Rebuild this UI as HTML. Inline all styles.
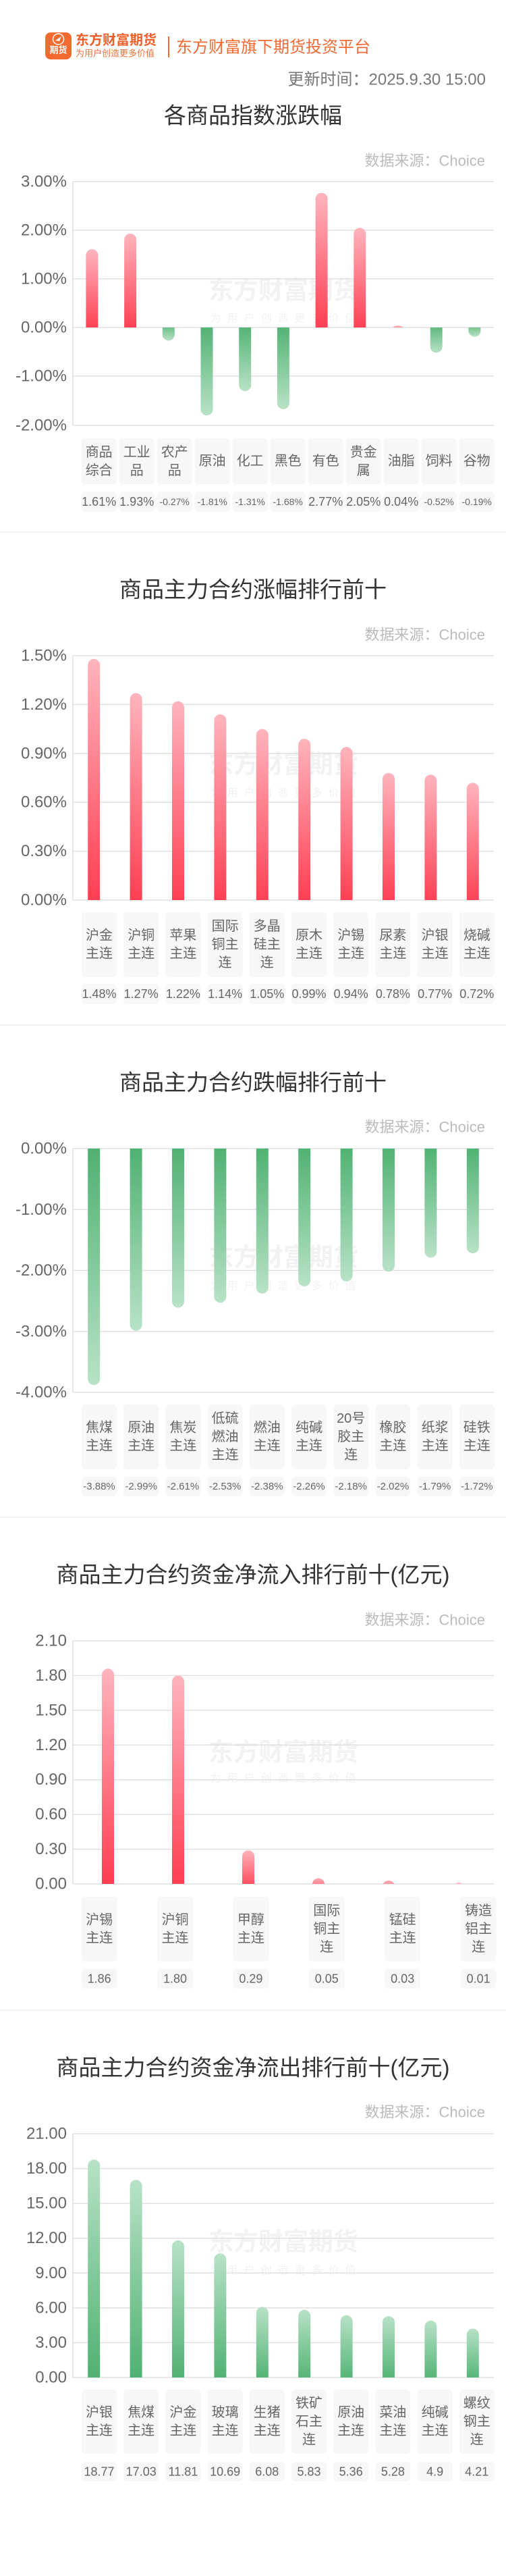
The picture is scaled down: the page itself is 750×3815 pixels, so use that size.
<!DOCTYPE html>
<html><head><meta charset="utf-8">
<style>
html,body{margin:0;padding:0;background:#fff;}
svg{display:block}
text{font-family:"Liberation Sans","Noto Sans CJK SC",sans-serif;}
.t{font-size:24px;fill:#666;text-anchor:end;dominant-baseline:central}
.ti{font-size:33px;fill:#333;text-anchor:middle;dominant-baseline:central}
.src{font-size:22px;fill:#bbb;text-anchor:end;dominant-baseline:central}
.c{font-size:20px;fill:#666;text-anchor:middle;dominant-baseline:central}
.v{font-size:18px;fill:#666;text-anchor:middle;dominant-baseline:central}
.vn{font-size:14px;fill:#666;text-anchor:middle;dominant-baseline:central}
.v3{font-size:15px;fill:#666;text-anchor:middle;dominant-baseline:central}
.wm{font-size:37px;font-weight:bold;fill:#f2f2f2;text-anchor:middle;dominant-baseline:central}
.wm2{font-size:16px;fill:#f2f2f2;text-anchor:middle;dominant-baseline:central;letter-spacing:9px}
.g{stroke:#e0e0e0;stroke-width:1.5}
.ax{stroke:#ddd;stroke-width:1.5}
.bx{fill:#f7f7f7}
.sep{stroke:#f2f2f2;stroke-width:2}
</style></head>
<body>
<svg width="750" height="3815" viewBox="0 0 750 3815" xmlns="http://www.w3.org/2000/svg">
<defs>
<linearGradient id="rd" x1="0" y1="0" x2="0" y2="1"><stop offset="0" stop-color="#ffb4bc"/><stop offset="1" stop-color="#ff3a4f"/></linearGradient>
<linearGradient id="gd" x1="0" y1="0" x2="0" y2="1"><stop offset="0" stop-color="#4cb06f"/><stop offset="1" stop-color="#b8e2c6"/></linearGradient>
<linearGradient id="gu" x1="0" y1="0" x2="0" y2="1"><stop offset="0" stop-color="#b8e2c6"/><stop offset="1" stop-color="#4cb06f"/></linearGradient>
<clipPath id="c1p"><rect x="100" y="250" width="640" height="235"/></clipPath>
<clipPath id="c1n"><rect x="100" y="485" width="640" height="160"/></clipPath>
<clipPath id="c2"><rect x="100" y="950" width="640" height="383"/></clipPath>
<clipPath id="c3"><rect x="100" y="1701" width="640" height="380"/></clipPath>
<clipPath id="c4"><rect x="100" y="2410" width="640" height="380"/></clipPath>
<clipPath id="c5"><rect x="100" y="3140" width="640" height="381"/></clipPath>
</defs>

<!-- header -->
<rect x="67" y="48" width="39" height="40" rx="8" fill="#f26a30"/>
<circle cx="86.5" cy="58" r="8" fill="none" stroke="#fff" stroke-width="1.5"/>
<path d="M82 60 L91 54 L88 61 Z" fill="#fff"/>
<text x="86.5" y="74" font-size="13" font-weight="bold" fill="#fff" text-anchor="middle" dominant-baseline="central">期货</text>
<text x="112" y="60" font-size="20" font-weight="bold" fill="#ef5f2a" dominant-baseline="central">东方财富期货</text>
<text x="112" y="79" font-size="13" fill="#f07038" dominant-baseline="central">为用户创造更多价值</text>
<line x1="250" y1="54" x2="250" y2="85" stroke="#f26a30" stroke-width="2"/>
<text x="261" y="70" font-size="24" fill="#f06a35" dominant-baseline="central">东方财富旗下期货投资平台</text>
<text x="720" y="118" font-size="24" fill="#777" text-anchor="end" dominant-baseline="central">更新时间：2025.9.30 15:00</text>

<!-- chart 1 -->
<text class="ti" x="375" y="171">各商品指数涨跌幅</text>
<text class="src" x="719" y="238">数据来源：Choice</text>
<text class="wm" x="420" y="430">东方财富期货</text><text class="wm2" x="424" y="472">为用户创造更多价值</text>
<g class="g"><line x1="108" y1="269" x2="732" y2="269"/><line x1="108" y1="341" x2="732" y2="341"/><line x1="108" y1="413" x2="732" y2="413"/><line x1="108" y1="485" x2="732" y2="485"/><line x1="108" y1="557" x2="732" y2="557"/><line x1="108" y1="630" x2="732" y2="630"/></g>
<line class="ax" x1="108" y1="269" x2="108" y2="630"/>
<text class="t" x="99" y="269">3.00%</text><text class="t" x="99" y="341">2.00%</text><text class="t" x="99" y="413">1.00%</text><text class="t" x="99" y="485">0.00%</text><text class="t" x="99" y="557">-1.00%</text><text class="t" x="99" y="630">-2.00%</text>
<g clip-path="url(#c1p)" fill="url(#rd)">
<rect x="127.4" y="369.1" width="18" height="125" rx="9"/>
<rect x="184.1" y="346" width="18" height="148" rx="9"/>
<rect x="467.6" y="285.6" width="18" height="209" rx="9"/>
<rect x="524.3" y="337.4" width="18" height="157" rx="9"/>
<rect x="581" y="482.1" width="18" height="12" rx="9"/>
</g>
<g clip-path="url(#c1n)" fill="url(#gd)">
<rect x="240.8" y="476" width="18" height="28.4" rx="9"/>
<rect x="297.5" y="476" width="18" height="139.3" rx="9"/>
<rect x="354.2" y="476" width="18" height="103.3" rx="9"/>
<rect x="410.9" y="476" width="18" height="130" rx="9"/>
<rect x="637.7" y="476" width="18" height="46.4" rx="9"/>
<rect x="694.4" y="476" width="18" height="22.7" rx="9"/>
</g>
<g class="bx">
<rect x="120.7" y="649" width="52" height="68" rx="5"/><rect x="176.7" y="649" width="52" height="68" rx="5"/><rect x="232.7" y="649" width="52" height="68" rx="5"/><rect x="288.7" y="649" width="52" height="68" rx="5"/><rect x="344.7" y="649" width="52" height="68" rx="5"/><rect x="400.7" y="649" width="52" height="68" rx="5"/><rect x="456.7" y="649" width="52" height="68" rx="5"/><rect x="512.7" y="649" width="52" height="68" rx="5"/><rect x="568.7" y="649" width="52" height="68" rx="5"/><rect x="624.7" y="649" width="52" height="68" rx="5"/><rect x="680.7" y="649" width="52" height="68" rx="5"/>
<rect x="120.7" y="728" width="52" height="30" rx="5"/><rect x="176.7" y="728" width="52" height="30" rx="5"/><rect x="232.7" y="728" width="52" height="30" rx="5"/><rect x="288.7" y="728" width="52" height="30" rx="5"/><rect x="344.7" y="728" width="52" height="30" rx="5"/><rect x="400.7" y="728" width="52" height="30" rx="5"/><rect x="456.7" y="728" width="52" height="30" rx="5"/><rect x="512.7" y="728" width="52" height="30" rx="5"/><rect x="568.7" y="728" width="52" height="30" rx="5"/><rect x="624.7" y="728" width="52" height="30" rx="5"/><rect x="680.7" y="728" width="52" height="30" rx="5"/>
</g>
<text class="c" x="146.7" y="670">商品</text><text class="c" x="146.7" y="697">综合</text>
<text class="c" x="202.7" y="670">工业</text><text class="c" x="202.7" y="697">品</text>
<text class="c" x="258.7" y="670">农产</text><text class="c" x="258.7" y="697">品</text>
<text class="c" x="314.7" y="683">原油</text>
<text class="c" x="370.7" y="683">化工</text>
<text class="c" x="426.7" y="683">黑色</text>
<text class="c" x="482.7" y="683">有色</text>
<text class="c" x="538.7" y="670">贵金</text><text class="c" x="538.7" y="697">属</text>
<text class="c" x="594.7" y="683">油脂</text>
<text class="c" x="650.7" y="683">饲料</text>
<text class="c" x="706.7" y="683">谷物</text>
<text class="v" x="146.7" y="743" font-size="17">1.61%</text><text class="v" x="202.7" y="743">1.93%</text><text class="vn" x="258.7" y="743">-0.27%</text><text class="vn" x="314.7" y="743">-1.81%</text><text class="vn" x="370.7" y="743">-1.31%</text><text class="vn" x="426.7" y="743">-1.68%</text><text class="v" x="482.7" y="743">2.77%</text><text class="v" x="538.7" y="743">2.05%</text><text class="v" x="594.7" y="743">0.04%</text><text class="vn" x="650.7" y="743">-0.52%</text><text class="vn" x="706.7" y="743">-0.19%</text>
<line class="sep" x1="0" y1="788" x2="750" y2="788"/>

<!-- chart 2 -->
<text class="ti" x="375" y="873">商品主力合约涨幅排行前十</text>
<text class="src" x="719" y="940">数据来源：Choice</text>
<text class="wm" x="420" y="1132">东方财富期货</text><text class="wm2" x="424" y="1175">为用户创造更多价值</text>
<g class="g"><line x1="108" y1="971" x2="732" y2="971"/><line x1="108" y1="1043.4" x2="732" y2="1043.4"/><line x1="108" y1="1115.8" x2="732" y2="1115.8"/><line x1="108" y1="1188.2" x2="732" y2="1188.2"/><line x1="108" y1="1260.6" x2="732" y2="1260.6"/><line x1="108" y1="1333" x2="732" y2="1333"/></g>
<line class="ax" x1="108" y1="971" x2="108" y2="1333"/>
<text class="t" x="99" y="971">1.50%</text><text class="t" x="99" y="1043.4">1.20%</text><text class="t" x="99" y="1115.8">0.90%</text><text class="t" x="99" y="1188.2">0.60%</text><text class="t" x="99" y="1260.6">0.30%</text><text class="t" x="99" y="1333">0.00%</text>
<g clip-path="url(#c2)" fill="url(#rd)">
<rect x="130.2" y="975.9" width="18" height="370" rx="9"/>
<rect x="192.6" y="1026.5" width="18" height="320" rx="9"/>
<rect x="255" y="1038.6" width="18" height="310" rx="9"/>
<rect x="317.4" y="1057.9" width="18" height="290" rx="9"/>
<rect x="379.8" y="1079.6" width="18" height="270" rx="9"/>
<rect x="442.2" y="1094.1" width="18" height="250" rx="9"/>
<rect x="504.6" y="1106.2" width="18" height="240" rx="9"/>
<rect x="567" y="1144.8" width="18" height="200" rx="9"/>
<rect x="629.4" y="1147.2" width="18" height="200" rx="9"/>
<rect x="691.8" y="1159.3" width="18" height="190" rx="9"/>
</g>
<g class="bx">
<rect x="121" y="1351" width="52" height="96" rx="5"/><rect x="183.2" y="1351" width="52" height="96" rx="5"/><rect x="245.4" y="1351" width="52" height="96" rx="5"/><rect x="307.6" y="1351" width="52" height="96" rx="5"/><rect x="369.8" y="1351" width="52" height="96" rx="5"/><rect x="432" y="1351" width="52" height="96" rx="5"/><rect x="494.2" y="1351" width="52" height="96" rx="5"/><rect x="556.4" y="1351" width="52" height="96" rx="5"/><rect x="618.6" y="1351" width="52" height="96" rx="5"/><rect x="680.8" y="1351" width="52" height="96" rx="5"/>
<rect x="121" y="1457" width="52" height="30" rx="5"/><rect x="183.2" y="1457" width="52" height="30" rx="5"/><rect x="245.4" y="1457" width="52" height="30" rx="5"/><rect x="307.6" y="1457" width="52" height="30" rx="5"/><rect x="369.8" y="1457" width="52" height="30" rx="5"/><rect x="432" y="1457" width="52" height="30" rx="5"/><rect x="494.2" y="1457" width="52" height="30" rx="5"/><rect x="556.4" y="1457" width="52" height="30" rx="5"/><rect x="618.6" y="1457" width="52" height="30" rx="5"/><rect x="680.8" y="1457" width="52" height="30" rx="5"/>
</g>
<text class="c" x="147" y="1385.5">沪金</text><text class="c" x="147" y="1412.5">主连</text>
<text class="c" x="209.2" y="1385.5">沪铜</text><text class="c" x="209.2" y="1412.5">主连</text>
<text class="c" x="271.4" y="1385.5">苹果</text><text class="c" x="271.4" y="1412.5">主连</text>
<text class="c" x="333.6" y="1372">国际</text><text class="c" x="333.6" y="1399">铜主</text><text class="c" x="333.6" y="1426">连</text>
<text class="c" x="395.8" y="1372">多晶</text><text class="c" x="395.8" y="1399">硅主</text><text class="c" x="395.8" y="1426">连</text>
<text class="c" x="458" y="1385.5">原木</text><text class="c" x="458" y="1412.5">主连</text>
<text class="c" x="520.2" y="1385.5">沪锡</text><text class="c" x="520.2" y="1412.5">主连</text>
<text class="c" x="582.4" y="1385.5">尿素</text><text class="c" x="582.4" y="1412.5">主连</text>
<text class="c" x="644.6" y="1385.5">沪银</text><text class="c" x="644.6" y="1412.5">主连</text>
<text class="c" x="706.8" y="1385.5">烧碱</text><text class="c" x="706.8" y="1412.5">主连</text>
<text class="v" x="147" y="1472">1.48%</text><text class="v" x="209.2" y="1472">1.27%</text><text class="v" x="271.4" y="1472">1.22%</text><text class="v" x="333.6" y="1472">1.14%</text><text class="v" x="395.8" y="1472">1.05%</text><text class="v" x="458" y="1472">0.99%</text><text class="v" x="520.2" y="1472">0.94%</text><text class="v" x="582.4" y="1472">0.78%</text><text class="v" x="644.6" y="1472">0.77%</text><text class="v" x="706.8" y="1472">0.72%</text>
<line class="sep" x1="0" y1="1518" x2="750" y2="1518"/>

<!-- chart 3 -->
<text class="ti" x="375" y="1603">商品主力合约跌幅排行前十</text>
<text class="src" x="719" y="1669">数据来源：Choice</text>
<text class="wm" x="420" y="1862">东方财富期货</text><text class="wm2" x="424" y="1905">为用户创造更多价值</text>
<g class="g"><line x1="108" y1="1701" x2="732" y2="1701"/><line x1="108" y1="1791.3" x2="732" y2="1791.3"/><line x1="108" y1="1881.5" x2="732" y2="1881.5"/><line x1="108" y1="1971.8" x2="732" y2="1971.8"/><line x1="108" y1="2062" x2="732" y2="2062"/></g>
<line class="ax" x1="108" y1="1701" x2="108" y2="2062"/>
<text class="t" x="99" y="1701">0.00%</text><text class="t" x="99" y="1791.3">-1.00%</text><text class="t" x="99" y="1881.5">-2.00%</text><text class="t" x="99" y="1971.8">-3.00%</text><text class="t" x="99" y="2062">-4.00%</text>
<g clip-path="url(#c3)" fill="url(#gd)">
<rect x="130.2" y="1692" width="18" height="359.2" rx="9"/>
<rect x="192.6" y="1692" width="18" height="278.8" rx="9"/>
<rect x="255" y="1692" width="18" height="244.6" rx="9"/>
<rect x="317.4" y="1692" width="18" height="237.3" rx="9"/>
<rect x="379.8" y="1692" width="18" height="223.8" rx="9"/>
<rect x="442.2" y="1692" width="18" height="213" rx="9"/>
<rect x="504.6" y="1692" width="18" height="205.7" rx="9"/>
<rect x="567" y="1692" width="18" height="191.3" rx="9"/>
<rect x="629.4" y="1692" width="18" height="170.5" rx="9"/>
<rect x="691.8" y="1692" width="18" height="164.2" rx="9"/>
</g>
<g class="bx">
<rect x="121" y="2080" width="52" height="96" rx="5"/><rect x="183.2" y="2080" width="52" height="96" rx="5"/><rect x="245.4" y="2080" width="52" height="96" rx="5"/><rect x="307.6" y="2080" width="52" height="96" rx="5"/><rect x="369.8" y="2080" width="52" height="96" rx="5"/><rect x="432" y="2080" width="52" height="96" rx="5"/><rect x="494.2" y="2080" width="52" height="96" rx="5"/><rect x="556.4" y="2080" width="52" height="96" rx="5"/><rect x="618.6" y="2080" width="52" height="96" rx="5"/><rect x="680.8" y="2080" width="52" height="96" rx="5"/>
<rect x="121" y="2187" width="52" height="29" rx="5"/><rect x="183.2" y="2187" width="52" height="29" rx="5"/><rect x="245.4" y="2187" width="52" height="29" rx="5"/><rect x="307.6" y="2187" width="52" height="29" rx="5"/><rect x="369.8" y="2187" width="52" height="29" rx="5"/><rect x="432" y="2187" width="52" height="29" rx="5"/><rect x="494.2" y="2187" width="52" height="29" rx="5"/><rect x="556.4" y="2187" width="52" height="29" rx="5"/><rect x="618.6" y="2187" width="52" height="29" rx="5"/><rect x="680.8" y="2187" width="52" height="29" rx="5"/>
</g>
<text class="c" x="147" y="2114.5">焦煤</text><text class="c" x="147" y="2141.5">主连</text>
<text class="c" x="209.2" y="2114.5">原油</text><text class="c" x="209.2" y="2141.5">主连</text>
<text class="c" x="271.4" y="2114.5">焦炭</text><text class="c" x="271.4" y="2141.5">主连</text>
<text class="c" x="333.6" y="2101">低硫</text><text class="c" x="333.6" y="2128">燃油</text><text class="c" x="333.6" y="2155">主连</text>
<text class="c" x="395.8" y="2114.5">燃油</text><text class="c" x="395.8" y="2141.5">主连</text>
<text class="c" x="458" y="2114.5">纯碱</text><text class="c" x="458" y="2141.5">主连</text>
<text class="c" x="520.2" y="2101">20号</text><text class="c" x="520.2" y="2128">胶主</text><text class="c" x="520.2" y="2155">连</text>
<text class="c" x="582.4" y="2114.5">橡胶</text><text class="c" x="582.4" y="2141.5">主连</text>
<text class="c" x="644.6" y="2114.5">纸浆</text><text class="c" x="644.6" y="2141.5">主连</text>
<text class="c" x="706.8" y="2114.5">硅铁</text><text class="c" x="706.8" y="2141.5">主连</text>
<text class="v3" x="147" y="2201.5">-3.88%</text><text class="v3" x="209.2" y="2201.5">-2.99%</text><text class="v3" x="271.4" y="2201.5">-2.61%</text><text class="v3" x="333.6" y="2201.5">-2.53%</text><text class="v3" x="395.8" y="2201.5">-2.38%</text><text class="v3" x="458" y="2201.5">-2.26%</text><text class="v3" x="520.2" y="2201.5">-2.18%</text><text class="v3" x="582.4" y="2201.5">-2.02%</text><text class="v3" x="644.6" y="2201.5">-1.79%</text><text class="v3" x="706.8" y="2201.5">-1.72%</text>
<line class="sep" x1="0" y1="2247" x2="750" y2="2247"/>

<!-- chart 4 -->
<text class="ti" x="375" y="2332">商品主力合约资金净流入排行前十(亿元)</text>
<text class="src" x="719" y="2399">数据来源：Choice</text>
<text class="wm" x="420" y="2595">东方财富期货</text><text class="wm2" x="424" y="2634">为用户创造更多价值</text>
<g class="g"><line x1="108" y1="2430" x2="732" y2="2430"/><line x1="108" y1="2481.4" x2="732" y2="2481.4"/><line x1="108" y1="2532.9" x2="732" y2="2532.9"/><line x1="108" y1="2584.3" x2="732" y2="2584.3"/><line x1="108" y1="2635.7" x2="732" y2="2635.7"/><line x1="108" y1="2687.1" x2="732" y2="2687.1"/><line x1="108" y1="2738.6" x2="732" y2="2738.6"/><line x1="108" y1="2790" x2="732" y2="2790"/></g>
<line class="ax" x1="108" y1="2430" x2="108" y2="2790"/>
<text class="t" x="99" y="2430">2.10</text><text class="t" x="99" y="2481.4">1.80</text><text class="t" x="99" y="2532.9">1.50</text><text class="t" x="99" y="2584.3">1.20</text><text class="t" x="99" y="2635.7">0.90</text><text class="t" x="99" y="2687.1">0.60</text><text class="t" x="99" y="2738.6">0.30</text><text class="t" x="99" y="2790">0.00</text>
<g clip-path="url(#c4)" fill="url(#rd)">
<rect x="151" y="2471.2" width="18" height="330" rx="9"/>
<rect x="255" y="2481.5" width="18" height="320" rx="9"/>
<rect x="359" y="2740.3" width="18" height="60" rx="9"/>
<rect x="463" y="2781.4" width="18" height="20" rx="9"/>
<rect x="567" y="2784.9" width="18" height="20" rx="9"/>
<rect x="671" y="2788.3" width="18" height="20" rx="9"/>
</g>
<g class="bx">
<rect x="120.6" y="2809" width="53" height="96" rx="5"/><rect x="233" y="2809" width="53" height="96" rx="5"/><rect x="345.4" y="2809" width="53" height="96" rx="5"/><rect x="457.8" y="2809" width="53" height="96" rx="5"/><rect x="570.2" y="2809" width="53" height="96" rx="5"/><rect x="682.6" y="2809" width="53" height="96" rx="5"/>
<rect x="120.6" y="2916" width="53" height="29" rx="5"/><rect x="233" y="2916" width="53" height="29" rx="5"/><rect x="345.4" y="2916" width="53" height="29" rx="5"/><rect x="457.8" y="2916" width="53" height="29" rx="5"/><rect x="570.2" y="2916" width="53" height="29" rx="5"/><rect x="682.6" y="2916" width="53" height="29" rx="5"/>
</g>
<text class="c" x="147.1" y="2843.5">沪锡</text><text class="c" x="147.1" y="2870.5">主连</text>
<text class="c" x="259.5" y="2843.5">沪铜</text><text class="c" x="259.5" y="2870.5">主连</text>
<text class="c" x="371.9" y="2843.5">甲醇</text><text class="c" x="371.9" y="2870.5">主连</text>
<text class="c" x="484.3" y="2830">国际</text><text class="c" x="484.3" y="2857">铜主</text><text class="c" x="484.3" y="2884">连</text>
<text class="c" x="596.7" y="2843.5">锰硅</text><text class="c" x="596.7" y="2870.5">主连</text>
<text class="c" x="709.1" y="2830">铸造</text><text class="c" x="709.1" y="2857">铝主</text><text class="c" x="709.1" y="2884">连</text>
<text class="v" x="147.1" y="2930.5">1.86</text><text class="v" x="259.5" y="2930.5">1.80</text><text class="v" x="371.9" y="2930.5">0.29</text><text class="v" x="484.3" y="2930.5">0.05</text><text class="v" x="596.7" y="2930.5">0.03</text><text class="v" x="709.1" y="2930.5">0.01</text>
<line class="sep" x1="0" y1="2977" x2="750" y2="2977"/>

<!-- chart 5 -->
<text class="ti" x="375" y="3062">商品主力合约资金净流出排行前十(亿元)</text>
<text class="src" x="719" y="3128">数据来源：Choice</text>
<text class="wm" x="420" y="3320">东方财富期货</text><text class="wm2" x="424" y="3363">为用户创造更多价值</text>
<g class="g"><line x1="108" y1="3160" x2="732" y2="3160"/><line x1="108" y1="3211.6" x2="732" y2="3211.6"/><line x1="108" y1="3263.1" x2="732" y2="3263.1"/><line x1="108" y1="3314.7" x2="732" y2="3314.7"/><line x1="108" y1="3366.3" x2="732" y2="3366.3"/><line x1="108" y1="3417.9" x2="732" y2="3417.9"/><line x1="108" y1="3469.4" x2="732" y2="3469.4"/><line x1="108" y1="3521" x2="732" y2="3521"/></g>
<line class="ax" x1="108" y1="3160" x2="108" y2="3521"/>
<text class="t" x="99" y="3160">21.00</text><text class="t" x="99" y="3211.6">18.00</text><text class="t" x="99" y="3263.1">15.00</text><text class="t" x="99" y="3314.7">12.00</text><text class="t" x="99" y="3366.3">9.00</text><text class="t" x="99" y="3417.9">6.00</text><text class="t" x="99" y="3469.4">3.00</text><text class="t" x="99" y="3521">0.00</text>
<g clip-path="url(#c5)" fill="url(#gu)">
<rect x="130.2" y="3198.3" width="18" height="332" rx="9"/>
<rect x="192.6" y="3228.3" width="18" height="302" rx="9"/>
<rect x="255" y="3318" width="18" height="212" rx="9"/>
<rect x="317.4" y="3337.2" width="18" height="193" rx="9"/>
<rect x="379.8" y="3416.5" width="18" height="114" rx="9"/>
<rect x="442.2" y="3420.8" width="18" height="110" rx="9"/>
<rect x="504.6" y="3428.9" width="18" height="102" rx="9"/>
<rect x="567" y="3430.2" width="18" height="100" rx="9"/>
<rect x="629.4" y="3436.8" width="18" height="94" rx="9"/>
<rect x="691.8" y="3448.6" width="18" height="82" rx="9"/>
</g>
<g class="bx">
<rect x="121" y="3539" width="52" height="95" rx="5"/><rect x="183.2" y="3539" width="52" height="95" rx="5"/><rect x="245.4" y="3539" width="52" height="95" rx="5"/><rect x="307.6" y="3539" width="52" height="95" rx="5"/><rect x="369.8" y="3539" width="52" height="95" rx="5"/><rect x="432" y="3539" width="52" height="95" rx="5"/><rect x="494.2" y="3539" width="52" height="95" rx="5"/><rect x="556.4" y="3539" width="52" height="95" rx="5"/><rect x="618.6" y="3539" width="52" height="95" rx="5"/><rect x="680.8" y="3539" width="52" height="95" rx="5"/>
<rect x="121" y="3646" width="52" height="29" rx="5"/><rect x="183.2" y="3646" width="52" height="29" rx="5"/><rect x="245.4" y="3646" width="52" height="29" rx="5"/><rect x="307.6" y="3646" width="52" height="29" rx="5"/><rect x="369.8" y="3646" width="52" height="29" rx="5"/><rect x="432" y="3646" width="52" height="29" rx="5"/><rect x="494.2" y="3646" width="52" height="29" rx="5"/><rect x="556.4" y="3646" width="52" height="29" rx="5"/><rect x="618.6" y="3646" width="52" height="29" rx="5"/><rect x="680.8" y="3646" width="52" height="29" rx="5"/>
</g>
<text class="c" x="147" y="3573">沪银</text><text class="c" x="147" y="3600">主连</text>
<text class="c" x="209.2" y="3573">焦煤</text><text class="c" x="209.2" y="3600">主连</text>
<text class="c" x="271.4" y="3573">沪金</text><text class="c" x="271.4" y="3600">主连</text>
<text class="c" x="333.6" y="3573">玻璃</text><text class="c" x="333.6" y="3600">主连</text>
<text class="c" x="395.8" y="3573">生猪</text><text class="c" x="395.8" y="3600">主连</text>
<text class="c" x="458" y="3559.5">铁矿</text><text class="c" x="458" y="3586.5">石主</text><text class="c" x="458" y="3613.5">连</text>
<text class="c" x="520.2" y="3573">原油</text><text class="c" x="520.2" y="3600">主连</text>
<text class="c" x="582.4" y="3573">菜油</text><text class="c" x="582.4" y="3600">主连</text>
<text class="c" x="644.6" y="3573">纯碱</text><text class="c" x="644.6" y="3600">主连</text>
<text class="c" x="706.8" y="3559.5">螺纹</text><text class="c" x="706.8" y="3586.5">钢主</text><text class="c" x="706.8" y="3613.5">连</text>
<text class="v" x="147" y="3660.5">18.77</text><text class="v" x="209.2" y="3660.5">17.03</text><text class="v" x="271.4" y="3660.5">11.81</text><text class="v" x="333.6" y="3660.5">10.69</text><text class="v" x="395.8" y="3660.5">6.08</text><text class="v" x="458" y="3660.5">5.83</text><text class="v" x="520.2" y="3660.5">5.36</text><text class="v" x="582.4" y="3660.5">5.28</text><text class="v" x="644.6" y="3660.5">4.9</text><text class="v" x="706.8" y="3660.5">4.21</text>
</svg>
</body></html>
